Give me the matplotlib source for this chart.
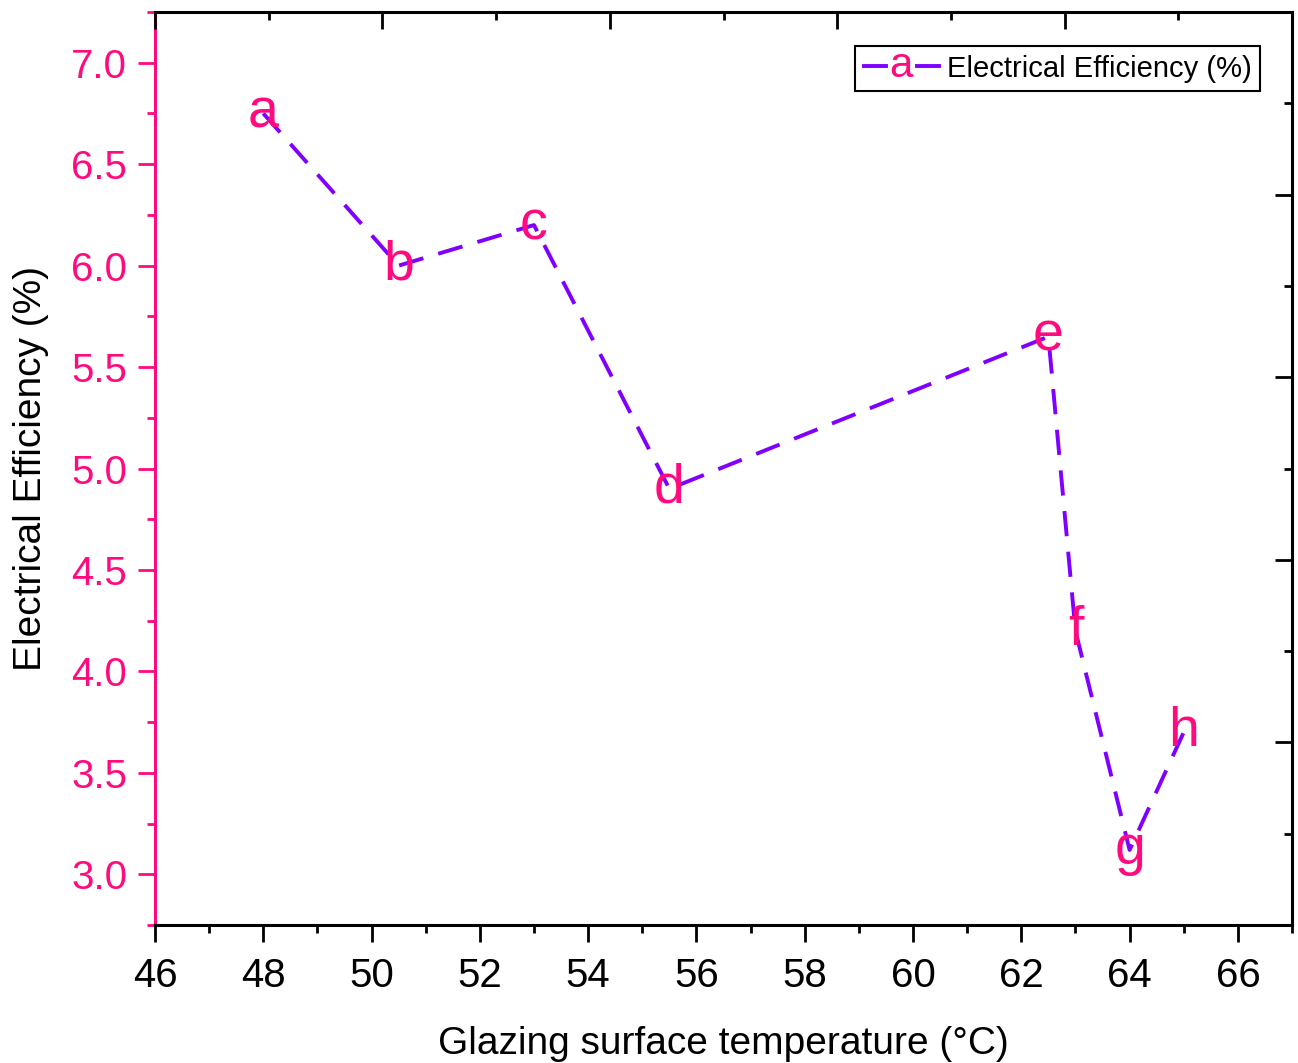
import matplotlib
matplotlib.use('Agg')
import matplotlib.pyplot as plt
from matplotlib.ticker import MultipleLocator, FormatStrFormatter
from matplotlib.legend_handler import HandlerBase
from matplotlib.lines import Line2D
from matplotlib.text import Text

plt.rcParams['font.family'] = ['Liberation Sans', 'DejaVu Sans']

# glazing surface temperature (°C) and electrical efficiency (%) per case
temp = [48, 50.5, 53, 55.5, 62.5, 63, 64, 65]
eff = [6.75, 6.0, 6.2, 4.9, 5.65, 4.2, 3.12, 3.7]
tags = ['a', 'b', 'c', 'd', 'e', 'f', 'g', 'h']

pink = '#FF0A7F'
purple = '#8000FF'


class TagHandler(HandlerBase):
    # legend key: short line, letter, short line
    def create_artists(self, legend, orig_handle, xdescent, ydescent,
                       width, height, fontsize, trans):
        yc = height / 2 - ydescent
        l1 = Line2D([-xdescent, width * 0.3], [yc, yc], color=purple, lw=2.8, transform=trans)
        l2 = Line2D([width * 0.7, width], [yc, yc], color=purple, lw=2.8, transform=trans)
        t = Text(width / 2, yc, 'a', color=pink, fontsize=fontsize * 1.45,
                 ha='center', va='center', transform=trans)
        return [l1, l2, t]


fig = plt.figure(figsize=(12.98, 10.63), dpi=100)
ax = fig.add_axes([0.1194, 0.1298, 0.876, 0.8589])

line, = ax.plot(temp, eff, color=purple, lw=2.8, dashes=(6.5, 4),
                label='Electrical Efficiency (%)')
for x, y, t in zip(temp, eff, tags):
    ax.text(x, y, t, color=pink, fontsize=40, ha='center', va='center')

ax.set_xlim(46, 67)
ax.set_ylim(2.75, 7.25)
ax.xaxis.set_major_locator(MultipleLocator(2))
ax.xaxis.set_minor_locator(MultipleLocator(1))
ax.yaxis.set_major_locator(MultipleLocator(0.5))
ax.yaxis.set_minor_locator(MultipleLocator(0.25))
ax.yaxis.set_major_formatter(FormatStrFormatter('%.1f'))

ax.tick_params(axis='x', which='major', direction='out', length=12, width=2,
               labelsize=29, pad=11, top=False)
ax.tick_params(axis='x', which='minor', direction='out', length=6, width=2, top=False)
ax.tick_params(axis='y', which='major', direction='out', length=12, width=2,
               labelsize=29, pad=8, color=pink, labelcolor=pink, right=False)
ax.tick_params(axis='y', which='minor', direction='out', length=6, width=2,
               color=pink, right=False)

for s in ['top', 'right', 'bottom']:
    ax.spines[s].set_linewidth(2.2)
    ax.spines[s].set_color('black')
ax.spines['left'].set_linewidth(2.2)
ax.spines['left'].set_color(pink)

ax.set_xlabel('Glazing surface temperature (°C)', fontsize=28, labelpad=22)
ax.set_ylabel('Electrical Efficiency (%)', fontsize=28, labelpad=16)

# frame ticks on top and right
ax2 = fig.add_axes(ax.get_position(), frameon=False)
ax2.set_xlim(0, 1)
ax2.set_ylim(0, 1)
ax2.xaxis.set_major_locator(MultipleLocator(0.2))
ax2.xaxis.set_minor_locator(MultipleLocator(0.1))
ax2.yaxis.set_major_locator(MultipleLocator(0.2))
ax2.yaxis.set_minor_locator(MultipleLocator(0.1))
ax2.tick_params(which='both', direction='in', width=2, bottom=False, left=False,
                top=True, right=True, labelbottom=False, labelleft=False)
ax2.tick_params(which='major', length=12)
ax2.tick_params(which='minor', length=6)
ax2.patch.set_visible(False)

leg = ax.legend(handles=[line], handler_map={Line2D: TagHandler()},
                loc='upper right', bbox_to_anchor=(0.972, 0.963), borderaxespad=0,
                fontsize=21, frameon=True, fancybox=False, framealpha=1,
                handlelength=2.6, handletextpad=0.25, borderpad=0.3)
leg.get_frame().set_edgecolor('black')
leg.get_frame().set_linewidth(1.5)

fig.savefig('out.png', dpi=100)
